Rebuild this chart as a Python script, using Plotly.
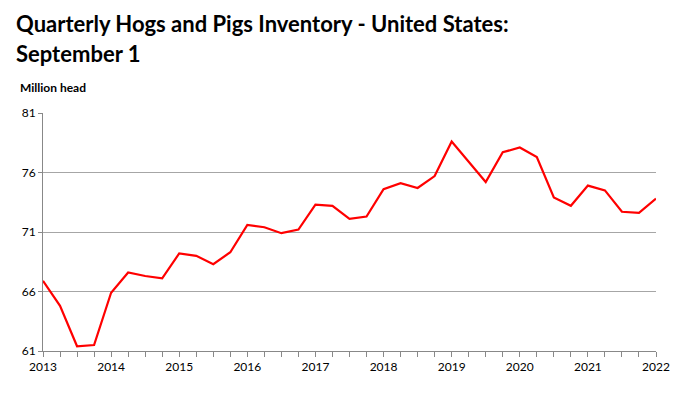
import plotly.graph_objects as go

# Quarterly dates (year fractions) and inventory values, million head
quarters = [2013 + 0.25 * i for i in range(37)]
inventory = [
    66.9, 64.8, 61.4, 61.5,
    65.9, 67.6, 67.3, 67.1,
    69.2, 69.0, 68.3, 69.3,
    71.6, 71.4, 70.9, 71.2,
    73.3, 73.2, 72.1, 72.3,
    74.6, 75.1, 74.7, 75.7,
    78.6, 76.9, 75.2, 77.7,
    78.1, 77.3, 73.9, 73.2,
    74.9, 74.5, 72.7, 72.6,
    73.8,
]
year_labels = [str(y) for y in range(2013, 2023)]
y_ticks = [61, 66, 71, 76, 81]

tick_text = [year_labels[int(q - 2013)] if q == int(q) else "" for q in quarters]

FONT = "Lato"
# page has an 8px body margin; plot area in window px: x 43..656, y 113..351
W, H = 681, 389
L, R, T, B = 35, 33, 105, 46
PW, PH = W - L - R, H - T - B


def px_x(px):
    return (px - 8 - L) / PW


def px_y(py):
    return (H - B - (py - 8)) / PH


fig = go.Figure()
fig.add_trace(go.Scatter(
    x=quarters, y=inventory, mode="lines",
    line=dict(color="#ff0000", width=2.2),
    hoverinfo="skip", showlegend=False,
))

fig.update_layout(
    width=W, height=H,
    margin=dict(l=L, r=R, t=T, b=B),
    paper_bgcolor="white", plot_bgcolor="white",
    font=dict(family=FONT, color="black", size=12),
    xaxis=dict(
        range=[2013, 2022], tickmode="array", tickvals=quarters, ticktext=tick_text,
        ticks="outside", ticklen=5, tickcolor="#888888", tickwidth=1,
        showgrid=False, showline=True, linecolor="#888888", linewidth=1,
        zeroline=False, tickfont=dict(size=12, family=FONT),
    ),
    yaxis=dict(
        range=[61, 81], tickmode="array", tickvals=y_ticks,
        ticks="outside", ticklen=4, tickcolor="#888888",
        showgrid=True, gridcolor="#a6a6a6", gridwidth=1,
        showline=True, linecolor="#888888", linewidth=1,
        zeroline=False, tickfont=dict(size=12, family=FONT),
    ),
    annotations=[
        dict(text="<b>Quarterly Hogs and Pigs Inventory - United States:</b>",
             xref="paper", yref="paper", x=px_x(14), y=px_y(23),
             xanchor="left", yanchor="middle", showarrow=False,
             font=dict(size=22, family=FONT, color="black")),
        dict(text="<b>September 1</b>",
             xref="paper", yref="paper", x=px_x(14), y=px_y(53),
             xanchor="left", yanchor="middle", showarrow=False,
             font=dict(size=22, family=FONT, color="black")),
        dict(text="<b>Million head</b>",
             xref="paper", yref="paper", x=px_x(18), y=px_y(88),
             xanchor="left", yanchor="middle", showarrow=False,
             font=dict(size=12, family=FONT, color="black")),
    ],
)

fig.write_html("out.html")
